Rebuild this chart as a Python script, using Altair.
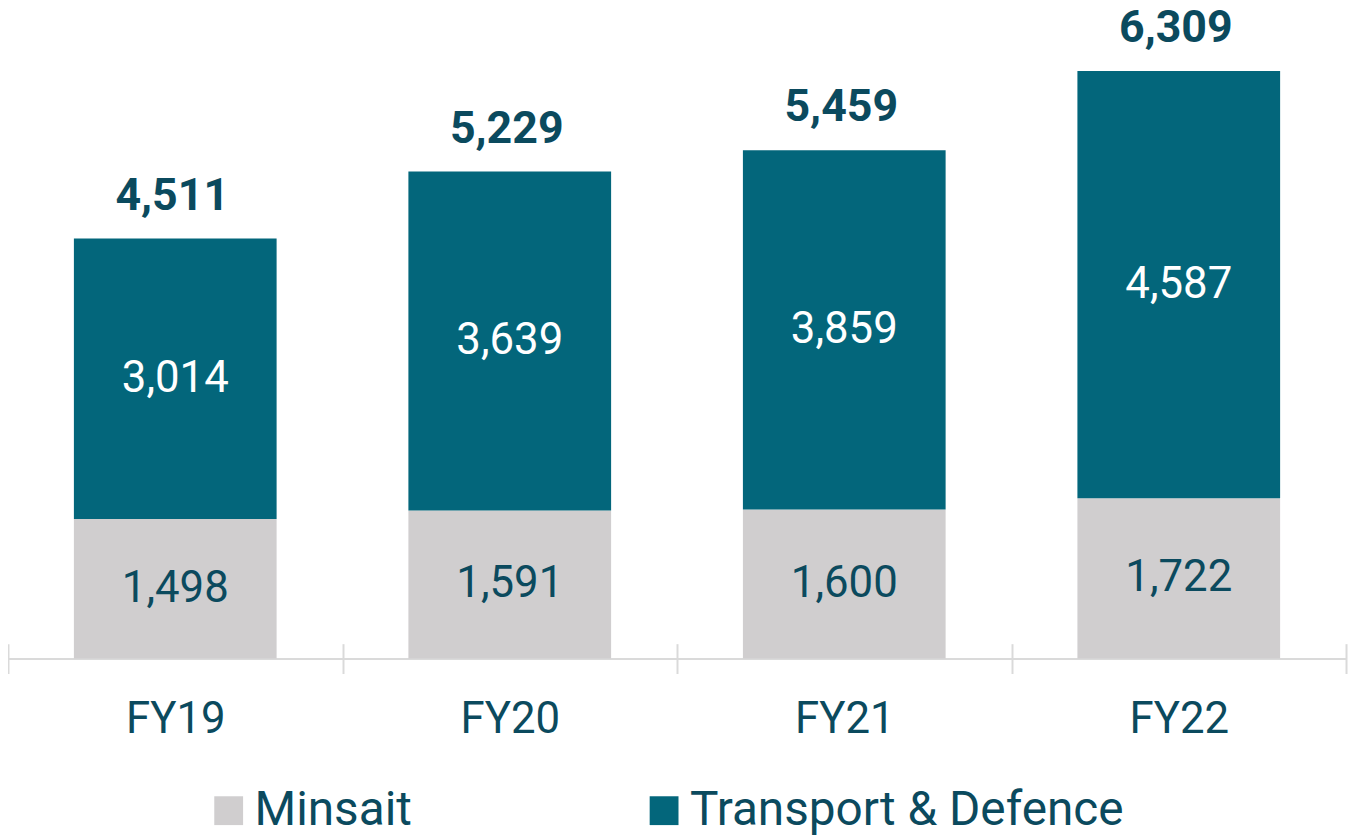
import altair as alt
import pandas as pd

years = ["FY19", "FY20", "FY21", "FY22"]
minsait = [1498, 1591, 1600, 1722]
transport = [3014, 3639, 3859, 4587]
totals = [4511, 5229, 5459, 6309]
series = ["Minsait", "Transport & Defence"]
colors = ["#D0CECF", "#03667B"]
label_colors = ["#0B4A5E", "#FFFFFF"]

rows = []
for i, y in enumerate(years):
    base = 0
    for s, vals, lc in zip(series, [minsait, transport], label_colors):
        v = vals[i]
        rows.append({"year": y, "series": s, "value": v, "y0": base, "y1": base + v,
                     "mid": base + v / 2, "label": f"{v:,}", "lc": lc})
        base += v
df = pd.DataFrame(rows)
tot = pd.DataFrame({"year": years, "total": totals, "label": [f"{t:,}" for t in totals]})

FONT = "Roboto"
DARK = "#0B4A5E"
AXC = "#DADADA"

xscale = alt.Scale(domain=years, paddingInner=0, paddingOuter=0)
yscale = alt.Scale(domain=[0, 6960])

bars = alt.Chart(df).mark_bar(width=alt.RelativeBandSize(0.606)).encode(
    x=alt.X("year:N", scale=xscale, sort=years, title=None,
            axis=alt.Axis(tickBand="extent", domainColor=AXC, domainWidth=2,
                          tickColor=AXC, tickWidth=2, tickSize=15,
                          labelFontSize=44, labelFont=FONT, labelColor=DARK,
                          labelPadding=24, labelAngle=0, orient="bottom")),
    y=alt.Y("y0:Q", scale=yscale, axis=None),
    y2="y1:Q",
    color=alt.Color("series:N", scale=alt.Scale(domain=series, range=colors),
                    legend=alt.Legend(title=None, orient="none", direction="horizontal",
                                      legendX=198, legendY=781, symbolType="square",
                                      symbolSize=841, symbolStrokeWidth=0,
                                      labelFontSize=48, labelFont=FONT, labelColor=DARK,
                                      labelOffset=2, columnPadding=229, padding=0,
                                      labelLimit=0)),
)

seg_labels = alt.Chart(df).mark_text(font=FONT, fontSize=44, baseline="middle").encode(
    x=alt.X("year:N", scale=xscale, sort=years, axis=None),
    y=alt.Y("mid:Q", scale=yscale, axis=None),
    text="label:N",
    color=alt.Color("lc:N", scale=None),
)

tot_labels = alt.Chart(tot).mark_text(font=FONT, fontSize=45, fontWeight="bold",
                                       baseline="alphabetic", dy=-29, dx=-3,
                                       color=DARK).encode(
    x=alt.X("year:N", scale=xscale, sort=years, title=None,
            axis=alt.Axis(tickBand="extent", domain=False, labels=False, offset=-15,
                          tickColor=AXC, tickWidth=2, tickSize=15, orient="bottom")),
    y=alt.Y("total:Q", scale=yscale, axis=None),
    text="label:N",
)

chart = alt.layer(bars, seg_labels, tot_labels).resolve_axis(x="independent").resolve_scale(
    color="independent").properties(
    width=1346, height=652,
    autosize=alt.AutoSizeParams(type="none"),
    padding={"top": 0, "left": 0, "right": 3, "bottom": 175},
).configure_view(stroke=None)

chart.save("out.html", embed_options={"renderer": "svg", "actions": False})
